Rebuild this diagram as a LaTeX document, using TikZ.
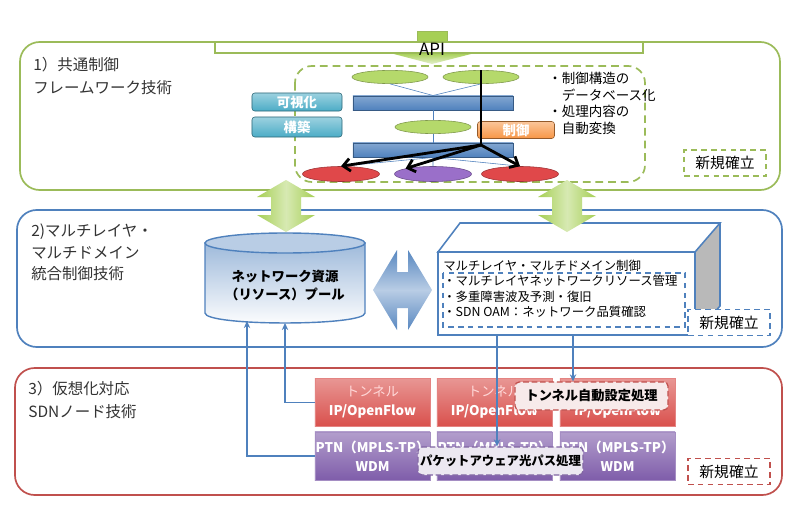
\documentclass[tikz,border=0pt]{standalone}
\usepackage{fontspec}
\setmainfont{Noto Sans CJK JP}
\usetikzlibrary{arrows.meta,calc,shapes.geometric}

\definecolor{lgreen}{HTML}{9BBB59}
\definecolor{agreen}{HTML}{A6CF55}
\definecolor{lblue}{HTML}{4F81BD}
\definecolor{lred}{HTML}{C0504D}
\definecolor{lpurple}{HTML}{8064A2}
\definecolor{lcyan}{HTML}{4BACC6}
\definecolor{lorange}{HTML}{F79646}
\definecolor{ovgreen}{HTML}{B5D96B}
\definecolor{ovred}{HTML}{E0484A}
\definecolor{ovpurple}{HTML}{9A6FC9}
\definecolor{cellred}{HTML}{D9504C}
\definecolor{cellpurple}{HTML}{7F5DAA}

\begin{document}
\begin{tikzpicture}[x=0.025cm,y=-0.025cm,>={Stealth[length=5pt,width=4.5pt]},
  grp/.style={rounded corners=14pt,line width=1.2pt},
  tech/.style={anchor=north west,inner sep=0pt,align=left,text=black!80,font=\fontsize{11}{16}\selectfont},
  dbbar/.style={draw=lblue!70!black,top color=lblue!70,bottom color=lblue,minimum width=4cm,minimum height=0.36cm,inner sep=0pt},
  oval/.style={ellipse,draw=#1!70!black,fill=#1,minimum width=1.9cm,minimum height=0.33cm,inner sep=0pt},
  func/.style={rounded corners=2pt,draw=#1!60!black,top color=#1!55,bottom color=#1,text=white,font=\bfseries\fontsize{9.5}{10}\selectfont,inner sep=0pt},
  newtag/.style={draw=#1,dash pattern=on 4pt off 3pt,line width=1.2pt,minimum width=2.05cm,minimum height=0.65cm,font=\fontsize{10.5}{12}\selectfont},
  cell/.style={draw=#1!70,top color=#1!60,bottom color=#1,text=white,minimum width=2.875cm,minimum height=1.2cm,align=center,inner sep=0pt,font=\bfseries\fontsize{9.5}{13.5}\selectfont},
  procbox/.style={rounded corners=3pt,draw=#1,dash pattern=on 4pt off 2pt,line width=0.9pt,fill=#1!15,minimum height=0.7cm,inner sep=0pt,font=\bfseries\fontsize{9.4}{10}\selectfont},
  link/.style={draw=lblue,line width=1pt},
  ctl/.style={line width=2pt}]
  \useasboundingbox (0,0) rectangle (800,525);
  \fill[white] (0,0) rectangle (800,525);

  % Layer 1
  \draw[grp,draw=lgreen] (20,42) rectangle (780,190);
  \fill[agreen,draw=lgreen] (417,31) rectangle (447,53);
  \shade[top color=agreen,bottom color=agreen!30] (390,53) -- (475,53) -- (432,64) -- cycle;
  \draw[lgreen,line width=1.1pt,fill=white] (215,42) rectangle (643,53);
  \node (api) at (432,49) {\fontsize{12}{12}\selectfont API};
  \node[tech] (lab1) at (33,57) {1）共通制御\\フレームワーク技術};

  % Framework
  \draw[lgreen,line width=1.2pt,dash pattern=on 5.5pt off 3.5pt,rounded corners=12pt] (295,66) rectangle (645,182);
  \node[func=lcyan,minimum width=2.25cm,minimum height=0.45cm] (vis) at (297,102) {可視化};
  \node[func=lcyan,minimum width=2.25cm,minimum height=0.5cm] (build) at (297,127) {構築};
  \node[oval=ovgreen] (e1) at (390,77) {};
  \node[oval=ovgreen] (e2) at (481,77) {};
  \node[dbbar] (bar1) at (433,103) {};
  \node[oval=ovgreen] (e3) at (433,127) {};
  \node[func=lorange,minimum width=1.925cm,minimum height=0.425cm] (ctrlbox) at (516,130) {制御};
  \node[dbbar] (bar2) at (433,150) {};
  \node[oval=ovred,minimum width=1.925cm,minimum height=0.375cm] (r1) at (341,174) {};
  \node[oval=ovpurple,minimum width=1.925cm,minimum height=0.375cm] (pu) at (433,174) {};
  \node[oval=ovred,minimum width=1.925cm,minimum height=0.375cm] (r2) at (520,174) {};
  \draw[lblue,thin] (e1.south) -- (bar1.north) -- (e2.south);
  \draw[lblue,thin] (bar1.south) -- (e3.north) (e3.south) -- (bar2.north);
  \draw[lblue,thin] (r1.north) -- (bar2.south) -- (r2.north) (bar2.south) -- (pu.north);
  % Control path
  \coordinate (hub) at (481,145);
  \draw[ctl] (e2.north) -- (hub);
  \draw[ctl,-{Straight Barb[length=5pt,width=9pt]}] (hub) -- (r1.north);
  \draw[ctl,-{Straight Barb[length=5pt,width=9pt]}] (hub) -- (pu.north west);
  \draw[ctl,-{Straight Barb[length=5pt,width=9pt]}] (hub) -- (r2.north);
  \node[anchor=north west,inner sep=0pt,align=left,font=\fontsize{9.6}{11.8}\selectfont] (notes) at (548,72) {・制御構造の\\　データベース化\\・処理内容の\\　自動変換};
  \node[newtag=lgreen] (new1) at (725,163) {新規確立};

  % Layer 2
  \draw[grp,draw=lblue] (17,210) rectangle (782,347);
  \node[tech,font=\fontsize{11}{15}\selectfont] (lab2) at (31,224) {2)マルチレイヤ・\\マルチドメイン\\統合制御技術};
  % Resource pool
  \shade[top color=lblue!55,bottom color=white,draw=lblue,line width=1pt] (205,243) -- (205,313) .. controls (205,326.3) and (365,326.3) .. (365,313) -- (365,243) -- cycle;
  \draw[lblue,line width=1pt,fill=lblue!40] (285,243) ellipse [x radius=2cm,y radius=0.25cm];
  \node[font=\bfseries\fontsize{9.5}{12.8}\selectfont,align=center] (pool) at (285,285) {ネットワーク資源\\（リソース）プール};
  \coordinate (in1) at (285,323);
  \coordinate (in2) at (247,321);
  \shade[top color=lblue!95,bottom color=lblue!95,middle color=lblue!40] (373,290) -- (397,250) -- (397,272) -- (408,272) -- (408,250) -- (432,290) -- (408,330) -- (408,308) -- (397,308) -- (397,330) -- cycle;
  % Control unit
  \fill[gray!55] (695,252) -- (720,223) -- (720,306) -- (695,335) -- cycle;
  \draw[lblue,line width=1.1pt,fill=white] (438,252) -- (460,223) -- (720,223) -- (695,252) -- cycle;
  \draw[lblue,line width=1.1pt,fill=white] (438,252) rectangle (695,335);
  \draw[lblue,line width=1.1pt] (720,223) -- (720,306) -- (695,335);
  \node[anchor=north west,inner sep=0pt,align=left,font=\fontsize{8.8}{10.8}\selectfont] (ctrl) at (443,260) {マルチレイヤ・マルチドメイン制御\\・マルチレイヤネットワークリソース管理\\・多重障害波及予測・復旧\\・SDN OAM：ネットワーク品質確認};
  \draw[lblue,line width=1.1pt,dash pattern=on 4pt off 3pt] (443,273) rectangle (685,327);
  \node[newtag=lblue,fill=white] (new2) at (729,322.5) {新規確立};
  % Arrows between layers
  \foreach \cx in {286,567}
    \shade[left color=agreen,right color=agreen,middle color=agreen!45] (\cx,180) -- ++(29,17) -- ++(-14,0) -- ++(0,18) -- ++(14,0) -- (\cx,232) -- ++(-29,-17) -- ++(14,0) -- ++(0,-18) -- ++(-14,0) -- cycle;

  % Layer 3
  \draw[grp,draw=lred] (15,368) rectangle (782,495);
  \node[tech] (lab3) at (28,381) {3）仮想化対応\\SDNノード技術};
  \foreach \i/\x in {1/372.5,2/494.5,3/617.5}{
    \node[cell=cellred] (rb\i) at (\x,402.5) {\textcolor{red!15}{\mdseries トンネル}\\IP/OpenFlow};
    \node[cell=cellpurple] (pb\i) at (\x,456) {PTN（MPLS-TP）\\WDM};
  }
  \node[procbox=lred,minimum width=3.825cm,fill=lred!12] (tunnel) at (591.5,396) {トンネル自動設定処理};
  \node[procbox=lpurple,minimum width=4.125cm,font=\bfseries\fontsize{8.8}{10}\selectfont] (pathproc) at (500.5,461) {パケットアウェア光パス処理};
  \node[newtag=lred,fill=white] (new3) at (729,471.5) {新規確立};

  % Links
  \coordinate (d1) at (497,335);
  \coordinate (d2) at (573,335);
  \draw[link,->] (d1) -- (d1 |- pathproc.north);
  \draw[link,->] (d2) -- (d2 |- tunnel.north);
  \draw[link,->] (rb1.west) -| (in1);
  \draw[link,->] (pb1.west) -| (in2);
\end{tikzpicture}
\end{document}
